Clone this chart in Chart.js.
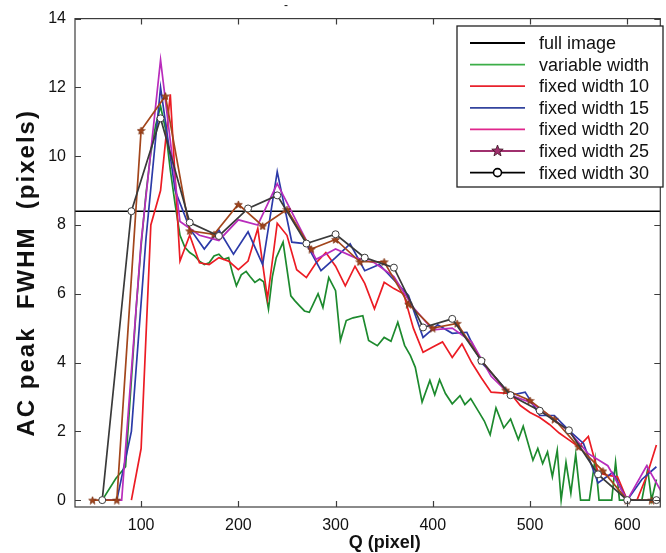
<!DOCTYPE html>
<html>
<head>
<meta charset="utf-8">
<script src="https://cdn.jsdelivr.net/npm/chart.js@4.4.0/dist/chart.umd.min.js"></script>
<style>
  html, body { margin: 0; padding: 0; background: #fff; }
</style>
</head>
<body>
<canvas id="fwhmChart" width="666" height="553"></canvas>
<script>
// axis ticks
var xTicks = [100, 200, 300, 400, 500, 600];
var yTicks = [0, 2, 4, 6, 8, 10, 12, 14];

// full image reference level
var qFull = [20, 650];
var fwhmFull = [8.4, 8.4];

// variable width window
var qVariable = [60, 74, 84, 90, 95, 100, 105, 110, 115, 120,
                 125, 130, 135, 140, 145, 150, 155, 160, 165, 170,
                 175, 180, 185, 190, 194, 198, 203, 208, 212, 217,
                 222, 226, 231, 235, 239, 246, 254, 258, 263, 268,
                 273, 277, 282, 287, 293, 300, 305, 311, 318, 328,
                 334, 343, 350, 357, 364, 371, 377, 382, 389, 397,
                 402, 407, 413, 420, 428, 433, 439, 447, 453, 459,
                 465, 473, 480, 488, 493, 503, 508, 513, 518, 523,
                 528, 532, 537, 542, 547, 552, 561, 567, 571, 584,
                 588, 592, 600, 615, 621, 625, 630];
var fwhmVariable = [0, 0.63, 0.97, 3.5, 5.6, 7.4, 8.9, 10.1, 10.9, 11.45,
                    10.8, 9.6, 8.6, 7.7, 7.35, 7.2, 7.1, 6.95, 6.85, 6.9,
                    7.1, 7.15, 7.0, 7.05, 6.6, 6.23, 6.55, 6.65, 6.5, 6.33,
                    6.43, 6.35, 5.56, 6.5, 7.05, 7.5, 5.94, 5.8, 5.65, 5.5,
                    5.46, 5.7, 6.0, 5.6, 6.47, 6.09, 4.64, 5.22, 5.3, 5.36,
                    4.64, 4.49, 4.73, 4.62, 5.17, 4.5, 4.2, 3.86, 2.85, 3.48,
                    3.06, 3.5, 3.1, 2.8, 3.04, 2.78, 2.95, 2.58, 2.3, 1.9,
                    2.68, 2.1, 2.36, 1.76, 2.15, 1.16, 1.5, 1.06, 1.4, 0.68,
                    1.45, 0, 1.1, 0.2, 1.33, 0, 0, 1.2, 0, 0,
                    1.1, 0, 0, 0, 0.9, 0, 0.6];

// fixed width 10
var q10 = [90, 100, 110, 120, 130, 140, 150, 160, 170, 180,
           190, 200, 210, 220, 230, 240, 250, 260, 270, 280,
           290, 300, 310, 320, 330, 340, 350, 360, 370, 380,
           390, 400, 410, 420, 430, 440, 450, 460, 470, 480,
           490, 500, 510, 520, 530, 540, 550, 560, 570, 580,
           590, 600, 610, 620, 630];
var fwhm10 = [0, 1.5, 8.0, 9.0, 11.8, 6.95, 7.7, 6.9, 6.85, 7.05,
              6.95, 6.7, 6.95, 7.9, 5.85, 8.05, 7.7, 6.7, 6.47, 6.9,
              7.2, 6.8, 6.23, 6.8, 6.3, 5.56, 6.33, 6.15, 6.0, 5.0,
              4.3, 4.45, 4.6, 4.15, 4.54, 4.0, 3.55, 3.14, 3.12, 3.1,
              2.75, 2.55, 2.4, 2.2, 1.95, 1.75, 1.55, 1.85, 0.8, 0.72,
              0.68, 0, 0, 0.7, 1.6];

// fixed width 15
var q15 = [60, 75, 90, 105, 120, 135, 150, 165, 180, 195,
           210, 225, 240, 255, 270, 285, 300, 315, 330, 345,
           360, 375, 390, 405, 420, 435, 450, 465, 480, 495,
           510, 525, 540, 555, 570, 585, 600, 615, 630];
var fwhm15 = [0, 0, 2.0, 7.6, 12.0, 9.0, 7.9, 7.3, 7.85, 7.15,
              7.8, 6.85, 9.55, 7.5, 7.45, 6.67, 7.05, 7.45, 6.67, 6.85,
              6.4, 5.95, 4.73, 5.1, 4.85, 4.88, 4.0, 3.55, 3.05, 3.14,
              2.46, 2.46, 2.03, 1.65, 0.5, 0.8, 0, 0.6, 0.97];

// fixed width 20
var q20 = [60, 80, 100, 120, 140, 160, 180, 200, 220, 240,
           260, 280, 300, 320, 340, 360, 380, 400, 420, 440,
           460, 480, 500, 520, 540, 560, 580, 600, 620, 640];
var fwhm20 = [0, 0, 7.5, 12.8, 8.1, 7.7, 7.55, 8.15, 8.0, 9.2,
              8.1, 7.0, 7.3, 7.05, 6.9, 6.5, 5.6, 4.95, 5.0, 4.6,
              3.6, 3.05, 2.85, 2.45, 2.0, 1.35, 1.0, 0, 1.0, 0];

// fixed width 25
var q25 = [50, 75, 100, 125, 150, 175, 200, 225, 250, 275,
           300, 325, 350, 375, 400, 425, 450, 475, 500, 525,
           550, 575, 600, 625];
var fwhm25 = [0, 0, 10.75, 11.75, 7.83, 7.73, 8.6, 7.97, 8.45, 7.3,
              7.58, 6.93, 6.93, 5.7, 5.0, 5.14, 4.06, 3.2, 2.9, 2.35,
              1.55, 0.85, 0, 0];

// fixed width 30
var q30 = [60, 90, 120, 150, 180, 210, 240, 270, 300, 330,
           360, 390, 420, 450, 480, 510, 540, 570, 600, 630];
var fwhm30 = [0, 8.4, 11.1, 8.07, 7.68, 8.48, 8.86, 7.46, 7.73, 7.05,
              6.76, 5.02, 5.27, 4.05, 3.05, 2.6, 2.03, 0.75, 0, 0];

var fontFamily = "'Liberation Sans', Arial, Helvetica, sans-serif";

function pairs(xs, ys) {
    return xs.map(function (x, i) { return { x: x, y: ys[i] }; });
}

// small filled pentagram used as the marker of the width-25 series
function makeStar(size, fill, stroke) {
    var c = document.createElement('canvas');
    c.width = size; c.height = size;
    var g = c.getContext('2d');
    var cx = size / 2, cy = size / 2 + 0.5, ro = size / 2 - 0.5, ri = ro * 0.42;
    g.beginPath();
    for (var i = 0; i < 10; i++) {
        var r = i % 2 === 0 ? ro : ri;
        var a = -Math.PI / 2 + i * Math.PI / 5;
        var px = cx + r * Math.cos(a), py = cy + r * Math.sin(a);
        if (i === 0) g.moveTo(px, py); else g.lineTo(px, py);
    }
    g.closePath();
    g.fillStyle = fill; g.fill();
    g.lineWidth = 0.8; g.strokeStyle = stroke; g.stroke();
    return c;
}

var starSmall = makeStar(9, '#a3461c', '#7a3010');
var starLegend = makeStar(13, '#a0306e', '#3a1020');

function line(label, xs, ys, color, order) {
    return {
        label: label,
        data: pairs(xs, ys),
        borderColor: color,
        backgroundColor: color,
        borderWidth: 1.7,
        pointRadius: 0,
        tension: 0,
        order: order
    };
}

var datasets = [
    line('full image', qFull, fwhmFull, '#000000', 7),
    line('variable width', qVariable, fwhmVariable, '#1d8a2e', 6),
    line('fixed width 10', q10, fwhm10, '#ec1c24', 5),
    line('fixed width 15', q15, fwhm15, '#2c3aa8', 4),
    line('fixed width 20', q20, fwhm20, '#b92cbc', 3),
    line('fixed width 25', q25, fwhm25, '#a3461c', 2),
    line('fixed width 30', q30, fwhm30, '#3a3a3a', 1)
];
datasets[0].borderWidth = 1.4;
datasets[5].pointRadius = 4;
datasets[5].pointStyle = starSmall;
datasets[6].pointRadius = 3.5;
datasets[6].pointStyle = 'circle';
datasets[6].pointBackgroundColor = '#ffffff';
datasets[6].pointBorderColor = '#3a3a3a';
datasets[6].pointBorderWidth = 1;

// legend sample colours are a bit lighter than the plotted lines
var legendColors = ['#000000', '#3cae48', '#e8222c', '#33449e', '#e0268c', '#a0306e', '#000000'];

// box frame plus inward tick marks on all four sides
var frameTicks = {
    id: 'frameTicks',
    afterDatasetsDraw: function (chart) {
        var ctx = chart.ctx, a = chart.chartArea;
        var sx = chart.scales.x, sy = chart.scales.y;
        ctx.save();
        ctx.strokeStyle = '#3c3c3c';
        ctx.lineWidth = 1.2;
        ctx.strokeRect(a.left, a.top, a.right - a.left, a.bottom - a.top);
        ctx.beginPath();
        xTicks.forEach(function (v) {
            var p = Math.round(sx.getPixelForValue(v)) + 0.5;
            ctx.moveTo(p, a.bottom); ctx.lineTo(p, a.bottom - 6);
            ctx.moveTo(p, a.top); ctx.lineTo(p, a.top + 6);
        });
        yTicks.forEach(function (v) {
            var p = Math.round(sy.getPixelForValue(v)) + 0.5;
            ctx.moveTo(a.left, p); ctx.lineTo(a.left + 6, p);
            ctx.moveTo(a.right, p); ctx.lineTo(a.right - 6, p);
        });
        ctx.stroke();
        ctx.restore();
    }
};

// axis labels, plus the stray title dash above the box
var axisText = {
    id: 'axisText',
    afterDraw: function (chart) {
        var ctx = chart.ctx, a = chart.chartArea;
        ctx.save();
        ctx.fillStyle = '#111111';
        ctx.textAlign = 'center';
        ctx.textBaseline = 'middle';
        ctx.font = 'bold 18px ' + fontFamily;
        ctx.fillText('Q (pixel)', (a.left + a.right) / 2 + 17, 543);
        ctx.font = '12px ' + fontFamily;
        ctx.fillText('-', 286, 6);
        ctx.translate(27, (a.top + a.bottom) / 2 + 10);
        ctx.rotate(-Math.PI / 2);
        ctx.font = 'bold 24px ' + fontFamily;
        ctx.letterSpacing = '2px';
        ctx.fillText('AC peak  FWHM  (pixels)', 0, 0);
        ctx.restore();
    }
};

// boxed legend in the upper right corner
var boxLegend = {
    id: 'boxLegend',
    afterDraw: function (chart) {
        var ctx = chart.ctx;
        var left = 457, top = 26, w = 206, h = 161;
        ctx.save();
        ctx.fillStyle = '#ffffff';
        ctx.fillRect(left, top, w, h);
        ctx.strokeStyle = '#222222';
        ctx.lineWidth = 1.3;
        ctx.strokeRect(left, top, w, h);
        ctx.font = '18px ' + fontFamily;
        ctx.textBaseline = 'middle';
        chart.data.datasets.forEach(function (ds, i) {
            var y = top + 17 + i * 21.6;
            ctx.strokeStyle = legendColors[i];
            ctx.lineWidth = 1.8;
            ctx.beginPath();
            ctx.moveTo(470, y); ctx.lineTo(525, y);
            ctx.stroke();
            if (i === 5) {
                ctx.drawImage(starLegend, 497.5 - 6.5, y - 7);
            } else if (i === 6) {
                ctx.beginPath();
                ctx.arc(497.5, y, 4, 0, Math.PI * 2);
                ctx.fillStyle = '#ffffff';
                ctx.fill();
                ctx.lineWidth = 1.6;
                ctx.stroke();
            }
            ctx.fillStyle = '#111111';
            ctx.fillText(ds.label, 539, y + 1);
        });
        ctx.restore();
    }
};

new Chart(document.getElementById('fwhmChart').getContext('2d'), {
    type: 'line',
    data: { datasets: datasets },
    options: {
        responsive: false,
        animation: false,
        layout: { padding: { top: 17, right: 1, left: 0, bottom: 0 } },
        plugins: { legend: { display: false }, tooltip: { enabled: false } },
        scales: {
            x: {
                type: 'linear',
                min: 32,
                max: 634,
                afterFit: function (s) { s.height = 46; },
                afterBuildTicks: function (s) {
                    s.ticks = xTicks.map(function (v) { return { value: v }; });
                },
                grid: { display: false, drawTicks: false },
                border: { display: false },
                ticks: {
                    padding: 9,
                    color: '#111111',
                    font: { family: fontFamily, size: 16 },
                    maxRotation: 0
                }
            },
            y: {
                min: -0.2,
                max: 14,
                afterFit: function (s) { s.width = 75; },
                afterBuildTicks: function (s) {
                    s.ticks = yTicks.map(function (v) { return { value: v }; });
                },
                grid: { display: false, drawTicks: false },
                border: { display: false },
                ticks: {
                    padding: 9,
                    color: '#111111',
                    font: { family: fontFamily, size: 16 }
                }
            }
        }
    },
    plugins: [frameTicks, axisText, boxLegend]
});
</script>
</body>
</html>
